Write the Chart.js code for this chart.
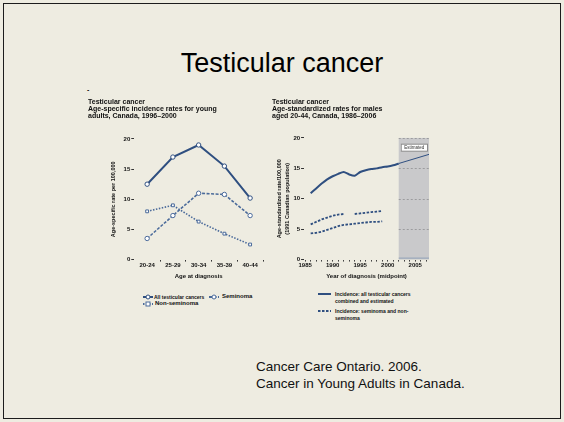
<!DOCTYPE html>
<html>
<head>
<meta charset="utf-8">
<script src="https://cdn.jsdelivr.net/npm/chart.js@4/dist/chart.umd.min.js"></script>
<style>
  html, body { margin: 0; padding: 0; }
  body { width: 564px; height: 422px; background: #EEECE1; position: relative; overflow: hidden;
         font-family: "Liberation Sans", Arial, sans-serif; }
  .frame { position: absolute; left: 3px; top: 3px; right: 3px; bottom: 3px; border: 1.5px solid #1c1c1c; }
  .title { position: absolute; left: 0; top: 50px; width: 564px; text-align: center;
           font-size: 27px; line-height: 27px; color: #000; }
  .cite { position: absolute; left: 256px; top: 359px; font-size: 13.5px; line-height: 16.5px; color: #111; }
  .dash { position: absolute; left: 87px; top: 86px; font-size: 7px; font-weight: bold; color: #111; }
  .box { position: absolute; }
  .legend { position: absolute; font-weight: bold; color: #111; line-height: 7px; white-space: nowrap; }
  .legend svg { position: absolute; }
  .legend span { position: absolute; }
  .lg6 { font-size: 6px; }
  .lg5 { font-size: 5px; }
</style>
</head>
<body>
<div class="frame"></div>
<div class="title">Testicular cancer</div>
<div class="dash">-</div>

<div class="box" style="left:88px; top:97px; width:180px; height:183px;"><canvas id="ageChart"></canvas></div>
<div class="box" style="left:272px; top:97px; width:162px; height:183px;"><canvas id="trendChart"></canvas></div>

<div class="legend" style="left:0; top:0;">
  <svg style="left:143px; top:294px;" width="10" height="6"><line x1="0" y1="3" x2="10" y2="3" stroke="#2F4F80" stroke-width="2"/><circle cx="5" cy="3" r="2" fill="#fff" stroke="#2F4F80" stroke-width="1"/></svg>
  <span class="lg5" style="left:154px; top:293.5px;">All testicular cancers</span>
  <svg style="left:209px; top:294px;" width="10" height="6"><line x1="0" y1="3" x2="10" y2="3" stroke="#4A6A9A" stroke-width="2" stroke-dasharray="3 1.5"/><circle cx="5" cy="3" r="2" fill="#fff" stroke="#4A6A9A" stroke-width="1"/></svg>
  <span class="lg6" style="left:222px; top:293px;">Seminoma</span>
  <svg style="left:143px; top:301px;" width="10" height="6"><line x1="0" y1="3" x2="10" y2="3" stroke="#4A6A9A" stroke-width="2" stroke-dasharray="1.5 1.5"/><rect x="3" y="1" width="4" height="4" fill="#fff" stroke="#4A6A9A" stroke-width="1"/></svg>
  <span class="lg6" style="left:155px; top:300px;">Non-seminoma</span>

  <svg style="left:318px; top:291px;" width="13" height="6"><line x1="0" y1="3" x2="13" y2="3" stroke="#2F4F80" stroke-width="2"/></svg>
  <span class="lg5" style="left:335px; top:290.5px;">Incidence: all testicular cancers</span>
  <span class="lg5" style="left:335px; top:297.5px;">combined and estimated</span>
  <svg style="left:318px; top:308px;" width="13" height="6"><line x1="0" y1="3" x2="13" y2="3" stroke="#2F4F80" stroke-width="2" stroke-dasharray="2.5 1.5"/></svg>
  <span class="lg5" style="left:335px; top:307.5px;">Incidence: seminoma and non-</span>
  <span class="lg5" style="left:335px; top:314.5px;">seminoma</span>
</div>

<div class="cite">Cancer Care Ontario. 2006.<br>Cancer in Young Adults in Canada.</div>

<script>
// left chart: age-specific rates
const ageGroups = ["20-24", "25-29", "30-34", "35-39", "40-44"];
const allByAge = [12.5, 17.0, 19.0, 15.5, 10.2];
const seminomaByAge = [3.5, 7.3, 11.0, 10.8, 7.3];
const nonSeminomaByAge = [8.0, 9.0, 6.3, 4.3, 2.5];

// right chart: age-standardized rates by year
const years = [1986, 1987, 1988, 1989, 1990, 1991, 1992, 1993, 1994, 1995, 1996, 1997, 1998, 1999, 2000, 2001, 2002];
const allTrend = [10.9, 11.7, 12.5, 13.2, 13.7, 14.1, 14.4, 14.0, 13.8, 14.4, 14.7, 14.9, 15.0, 15.2, 15.3, 15.5, 15.8];
const seminomaTrend = [5.8, 6.2, 6.6, 6.9, 7.2, 7.4, 7.5, null, 7.5, 7.6, 7.7, 7.8, 7.9, 8.0, null, null, null];
const nonSeminomaTrend = [4.3, 4.4, 4.6, 4.9, 5.2, 5.5, 5.7, 5.8, 5.9, 6.0, 6.1, 6.2, 6.2, 6.3, null, null, null];
const estYears = [2002, 2007.5];
const estTrend = [15.8, 17.3];
const estimateStart = 2002;
const yearLabels = [1985, 1990, 1995, 2000, 2005];
const rateTicks = [0, 5, 10, 15, 20];

const dark = "#2F4F80";
const mid = "#4A6A9A";
const ink = "#111";

Chart.defaults.font.family = "'Liberation Sans', Arial, sans-serif";
Chart.defaults.font.size = 6;
Chart.defaults.font.weight = "bold";
Chart.defaults.color = ink;
Chart.defaults.animation = false;
Chart.defaults.maintainAspectRatio = false;

const toXY = (xs, ys) => xs.map((x, i) => ({ x: x, y: ys[i] }));

new Chart("ageChart", {
  type: "line",
  data: {
    labels: ageGroups,
    datasets: [
      { label: "All testicular cancers", data: allByAge, borderColor: dark, borderWidth: 2,
        pointStyle: "circle", pointRadius: 2.2, pointBackgroundColor: "#fff", pointBorderColor: dark, pointBorderWidth: 1 },
      { label: "Seminoma", data: seminomaByAge, borderColor: mid, borderWidth: 1.6, borderDash: [3, 1.5],
        pointStyle: "circle", pointRadius: 2.2, pointBackgroundColor: "#fff", pointBorderColor: mid, pointBorderWidth: 1 },
      { label: "Non-seminoma", data: nonSeminomaByAge, borderColor: mid, borderWidth: 1.6, borderDash: [1.5, 1.5],
        pointStyle: "rect", pointRadius: 2, pointBackgroundColor: "#fff", pointBorderColor: mid, pointBorderWidth: 1 },
    ],
  },
  options: {
    layout: { padding: { left: 0, right: 2, top: 0, bottom: 0 } },
    plugins: {
      legend: { display: false },
      tooltip: { enabled: false },
      title: {
        display: true,
        text: ["Testicular cancer", "Age-specific incidence rates for young", "adults, Canada, 1996\u20132000"],
        align: "start",
        font: { size: 7, weight: "bold", lineHeight: 0.95 },
        color: ink,
        padding: { top: 2, bottom: 20 },
      },
    },
    scales: {
      x: {
        offset: true,
        grid: { offset: true, drawOnChartArea: false, tickLength: 2,
                color: (c) => (c.index === 0 || c.index === ageGroups.length ? "rgba(0,0,0,0)" : "#333") },
        border: { display: false },
        ticks: { padding: 0, maxRotation: 0 },
        title: { display: true, text: "Age at diagnosis", padding: { top: 4, bottom: 0 } },
      },
      y: {
        min: 0,
        max: 20,
        afterBuildTicks: (axis) => { axis.ticks = rateTicks.map((v) => ({ value: v })); },
        grid: { drawOnChartArea: false, tickLength: 3, color: "#333" },
        border: { display: false },
        ticks: { padding: 1 },
        title: { display: true, text: "Age-specific rate per 100,000", font: { size: 5.5 }, padding: { top: 22, bottom: 6 } },
      },
    },
  },
});

const shadePlugin = {
  id: "shade",
  beforeDatasetsDraw(chart) {
    const { ctx, chartArea, scales } = chart;
    const x0 = scales.x.getPixelForValue(estimateStart);
    const x1 = chartArea.right;
    ctx.save();
    ctx.fillStyle = "#C9C9CB";
    ctx.fillRect(x0, chartArea.top, x1 - x0, chartArea.bottom - chartArea.top);
    ctx.strokeStyle = "#9C9C9E";
    ctx.lineWidth = 1;
    ctx.setLineDash([2, 2]);
    [5, 10, 15, 20].forEach((v) => {
      const y = Math.round(scales.y.getPixelForValue(v)) + 0.5;
      ctx.beginPath();
      ctx.moveTo(x0, y);
      ctx.lineTo(x1, y);
      ctx.stroke();
    });
    ctx.setLineDash([]);
    ctx.strokeStyle = "#8FA0B8";
    ctx.beginPath();
    ctx.moveTo(x0, chartArea.bottom - 1.5);
    ctx.lineTo(x1, chartArea.bottom - 1.5);
    ctx.stroke();
    // label
    const by = scales.y.getPixelForValue(18.4);
    ctx.fillStyle = "#fff";
    ctx.strokeStyle = "#8A8A8A";
    ctx.fillRect(x0 + 2, by - 3.5, x1 - x0 - 3, 7);
    ctx.strokeRect(x0 + 2.5, by - 3.5, x1 - x0 - 4, 7);
    ctx.fillStyle = "#333";
    ctx.font = "4.5px 'Liberation Sans', Arial";
    ctx.textAlign = "center";
    ctx.textBaseline = "middle";
    ctx.fillText("Estimated", (x0 + x1) / 2 + 0.5, by);
    ctx.restore();
  },
};

const minorYears = [];
for (let y = 1985; y <= 2007; y++) minorYears.push(y);

new Chart("trendChart", {
  type: "line",
  data: {
    datasets: [
      { label: "Incidence: all testicular", data: toXY(years, allTrend), borderColor: dark, borderWidth: 2, pointRadius: 0, tension: 0.2 },
      { label: "Estimated", data: toXY(estYears, estTrend), borderColor: dark, borderWidth: 1, pointRadius: 0 },
      { label: "Seminoma", data: toXY(years, seminomaTrend), borderColor: dark, borderWidth: 1.8, borderDash: [2.5, 1.5], pointRadius: 0, spanGaps: false },
      { label: "Non-seminoma", data: toXY(years, nonSeminomaTrend), borderColor: dark, borderWidth: 1.8, borderDash: [2.5, 1.5], pointRadius: 0 },
    ],
  },
  options: {
    layout: { padding: { left: 0, right: 5, top: 0, bottom: 0 } },
    plugins: {
      legend: { display: false },
      tooltip: { enabled: false },
      title: {
        display: true,
        text: ["Testicular cancer", "Age-standardized rates for males", "aged 20-44, Canada, 1986\u20132006"],
        align: "start",
        font: { size: 7, weight: "bold", lineHeight: 0.95 },
        color: ink,
        padding: { top: 2, bottom: 19 },
      },
    },
    scales: {
      x: {
        type: "linear",
        min: 1984.8,
        max: 2007.5,
        afterBuildTicks: (axis) => { axis.ticks = minorYears.map((v) => ({ value: v })); },
        grid: { drawOnChartArea: false, tickLength: 2, color: "#444" },
        border: { display: false },
        ticks: { padding: 0, maxRotation: 0, autoSkip: false,
                 callback: (v) => (yearLabels.includes(v) ? String(v) : "") },
        title: { display: true, text: "Year of diagnosis (midpoint)", padding: { top: 4, bottom: 0 } },
      },
      y: {
        min: 0,
        max: 20,
        afterBuildTicks: (axis) => { axis.ticks = rateTicks.map((v) => ({ value: v })); },
        grid: { drawOnChartArea: false, tickLength: 3, color: "#333" },
        border: { display: false },
        ticks: { padding: 1 },
        title: { display: true, text: ["Age-standardized rate/100,000", "(1991 Canadian population)"], font: { size: 5.5, lineHeight: 1.4 }, padding: { top: 4, bottom: 1 } },
      },
    },
  },
  plugins: [shadePlugin],
});
</script>
</body>
</html>
